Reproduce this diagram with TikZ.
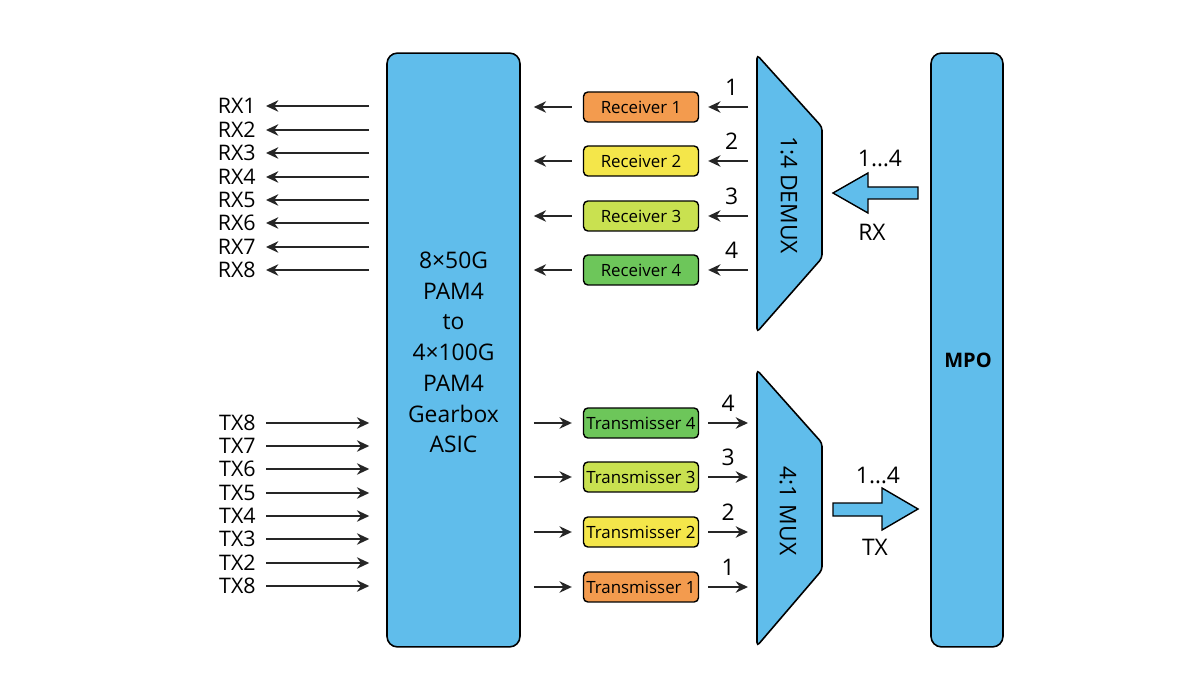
\documentclass[tikz,border=0pt]{standalone}
\usepackage{fontspec}
\setmainfont{Open Sans}
\usetikzlibrary{arrows.meta}
\definecolor{blu}{HTML}{60BDEB}
\definecolor{cOr}{HTML}{F39B4E}
\definecolor{cYe}{HTML}{F4E64A}
\definecolor{cYg}{HTML}{C9E150}
\definecolor{cGr}{HTML}{6DC65A}
\tikzset{
  arr/.style={draw=black!85, line width=1pt, -{Stealth[length=7pt,width=6.5pt]}},
  lbl/.style={inner sep=0pt, font=\fontsize{12.2}{14}\selectfont},
  num/.style={inner sep=0pt, font=\fontsize{13}{15}\selectfont},
  unitbox/.style={draw=black, line width=0.8pt, rounded corners=2.5pt, minimum width=2.3cm, minimum height=0.6cm, inner sep=0pt, font=\fontsize{9.6}{11}\selectfont},
  bigbox/.style={draw=black, line width=0.9pt, fill=blu, rounded corners=6pt, inner sep=0pt},
  trap/.style={draw=black, line width=0.9pt, fill=blu, rounded corners=2pt},
  bigarr/.style={draw=black, line width=0.8pt, fill=blu, line join=miter},
  rottxt/.style={rotate=-90, inner sep=0pt, font=\fontsize{13}{15}\selectfont},
}
\begin{document}
\begin{tikzpicture}[x=0.02cm,y=-0.02cm]
\useasboundingbox[fill=white] (0,0) rectangle (1200,675);

% ASIC block
\node[bigbox, minimum width=2.66cm, minimum height=11.88cm] (asic) at (453.5,350) {};
\node[align=center, inner sep=0pt, font=\fontsize{13}{17.5}\selectfont] (asictxt) at (453.5,352.5)
  {8×50G\\PAM4\\to\\4×100G\\PAM4\\Gearbox\\ASIC};

% MPO block
\node[bigbox, minimum width=1.44cm, minimum height=11.88cm] (mpo) at (967,350) {};
\node[inner sep=0pt, font=\bfseries\fontsize{11.4}{13}\selectfont] (mpotxt) at (968,360) {MPO};

% DEMUX / MUX trapezoids
\draw[trap] (757,55) -- (822,127) -- (822,258) -- (757,332) -- cycle;
\draw[trap] (757,370) -- (822,443) -- (822,570) -- (757,646) -- cycle;
\coordinate (demux) at (757,193);
\coordinate (demuxR) at (822,193);
\coordinate (mux) at (757,508);
\coordinate (muxR) at (822,508);
\node[rottxt] (demuxtxt) at (789,195) {1:4 DEMUX};
\node[rottxt] (muxtxt) at (788,511) {4:1 MUX};

% big RX / TX arrows
\draw[bigarr] (918,187) -- (868,187) -- (868,173) -- (833,193) -- (868,213) -- (868,199) -- (918,199) -- cycle;
\draw[bigarr] (833,503) -- (882,503) -- (882,488) -- (918,509) -- (882,530) -- (882,516) -- (833,516) -- cycle;
\node[num] (rxr) at (880,158) {1…4};
\node[num] (rxl) at (872,232) {RX};
\node[num] (txr) at (878,475) {1…4};
\node[num] (txl) at (875,547) {TX};

% Receivers
\node[unitbox, fill=cOr] (rec1) at (641,107) {Receiver 1};
\node[unitbox, fill=cYe] (rec2) at (641,161) {Receiver 2};
\node[unitbox, fill=cYg] (rec3) at (641,216) {Receiver 3};
\node[unitbox, fill=cGr] (rec4) at (641,270) {Receiver 4};

% Transmitters
\node[unitbox, fill=cGr] (tr4) at (641,423) {Transmisser 4};
\node[unitbox, fill=cYg] (tr3) at (641,477) {Transmisser 3};
\node[unitbox, fill=cYe] (tr2) at (641,532) {Transmisser 2};
\node[unitbox, fill=cOr] (tr1) at (641,587) {Transmisser 1};

% receiver connectors
\foreach \r/\n in {rec1/1,rec2/2,rec3/3,rec4/4}{
  \draw[arr, shorten <=0.18cm, shorten >=0.18cm] (demux |- \r) -- (\r.east)
     node[num, midway, above=0.21cm, xshift=2pt] {\n};
  \draw[arr, shorten <=0.22cm, shorten >=0.26cm] (\r.west) -- (asic.east |- \r);
}
% transmitter connectors
\foreach \t/\n in {tr4/4,tr3/3,tr2/2,tr1/1}{
  \draw[arr, shorten <=0.26cm, shorten >=0.22cm] (asic.east |- \t) -- (\t.west);
  \draw[arr, shorten <=0.18cm, shorten >=0.18cm] (\t.east) -- (mux |- \t)
     node[num, midway, above=0.21cm] {\n};
}

% RX lines
\foreach \i/\y in {1/106,2/130,3/153,4/177,5/200,6/223,7/247,8/270}{
  \node[lbl, anchor=east] (rxl\i) at (256,\y) {RX\i};
  \draw[arr, shorten <=0.34cm, shorten >=0.2cm] (asic.west |- rxl\i) -- (rxl\i.east);
}
% TX lines
\foreach \i/\t/\y in {a/TX8/423,b/TX7/446,c/TX6/469,d/TX5/493,e/TX4/516,f/TX3/539,g/TX2/563,h/TX8/586}{
  \node[lbl, anchor=east] (txl\i) at (256,\y) {\t};
  \draw[arr, shorten <=0.2cm, shorten >=0.34cm] (txl\i.east) -- (asic.west |- txl\i);
}
\end{tikzpicture}
\end{document}
